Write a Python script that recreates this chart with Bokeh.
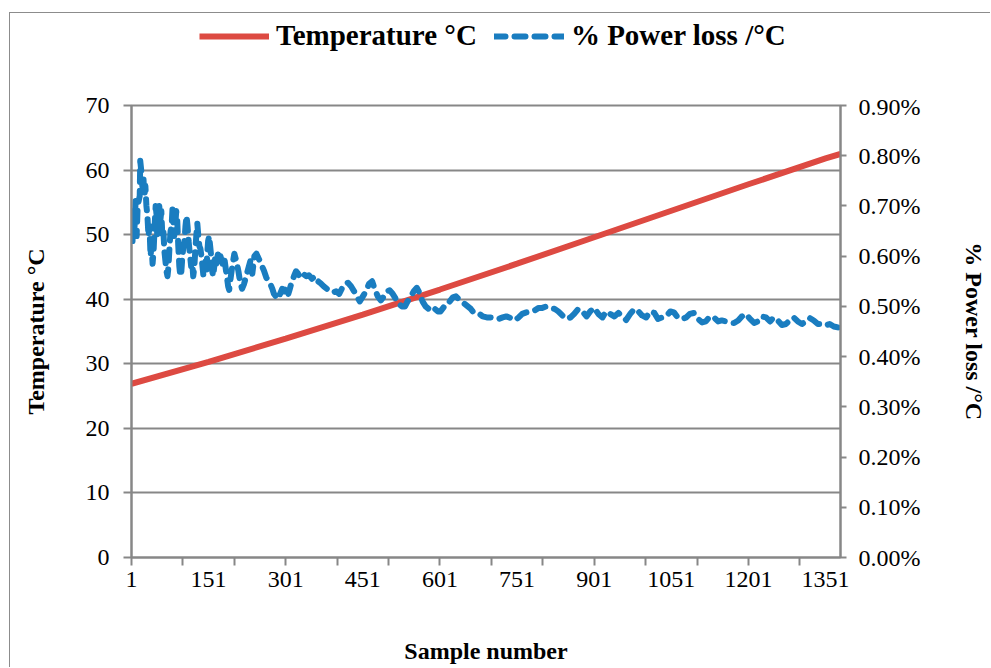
from bokeh.plotting import figure
from bokeh.layouts import column
from bokeh.models import (Range1d, LinearAxis, FixedTicker, PrintfTickFormatter,
                          Legend, LegendItem)
from bokeh.embed import file_html
from bokeh.resources import INLINE

# ---------------- data ----------------
temp_samples = [1, 151, 301, 451, 601, 751, 901, 1051, 1201, 1351, 1380]
temperature = [26.9, 30.3, 33.9, 37.6, 41.5, 45.5, 49.6, 53.7, 57.8, 61.8, 62.5]

loss_samples = [
    3, 5, 7, 9, 11, 13,
    17, 18, 20, 22, 24, 26, 28, 30, 32, 34,
    36, 38, 40, 42, 44, 46, 48, 50, 51, 53,
    55, 57, 59, 61, 63, 65, 67, 69, 71, 73,
    75, 77, 79, 81, 82, 84, 86, 88, 90, 92,
    94, 96, 98, 100, 102, 104, 106, 108, 110, 112,
    114, 115, 117, 119, 121, 123, 125, 127, 129, 131,
    133, 135, 137, 139, 141, 143, 145, 147, 148, 150,
    152, 154, 156, 158, 160, 162, 164, 166,
    170, 174, 178, 181, 185, 189, 191, 193, 197, 201,
    205, 209, 212, 216, 220, 224, 228, 232, 236, 240,
    244, 247, 251, 255, 259, 263, 267, 271, 275, 278,
    282, 286, 290, 294, 298, 302, 306, 309, 313, 317,
    321, 325, 329,
    335, 341, 346, 352, 358, 364, 370, 375, 381, 387,
    393, 399, 405, 410, 416, 422, 428, 434, 439, 445,
    451, 457, 463, 469, 474, 480, 486, 492, 498, 503,
    509, 515, 521, 527, 533, 538, 544, 550, 556, 562,
    567, 573, 579, 585, 591, 597, 602, 608, 614, 620,
    626, 632, 637, 643, 649, 655, 661, 666, 672, 678,
    684,
    692, 699, 707, 715, 723, 730, 738, 746, 754, 761,
    769, 777, 785, 793, 800, 808, 816, 824, 831, 839,
    847, 855, 862, 870, 878, 886, 893, 901, 909, 917,
    924, 932, 940, 948, 955, 963, 971, 979, 987, 994,
    1002, 1010, 1018, 1025, 1033, 1041, 1049, 1056, 1064, 1072,
    1080, 1087, 1095, 1103, 1111, 1118, 1126, 1134, 1142, 1149,
    1157, 1165, 1173, 1181, 1188, 1196, 1204, 1212, 1219, 1227,
    1235, 1243, 1250, 1258, 1266, 1274, 1281, 1289, 1297, 1305,
    1312, 1320, 1328, 1336, 1343, 1351, 1359, 1367, 1375,
]
# % power loss per degree C (in percent units)
power_loss = [
    0.63, 0.69, 0.66, 0.71, 0.64, 0.70,
    0.72, 0.79, 0.77, 0.74, 0.76, 0.72, 0.74, 0.70, 0.68, 0.64,
    0.66, 0.60, 0.62, 0.585, 0.61, 0.66, 0.70, 0.68, 0.64, 0.69,
    0.70, 0.67, 0.69, 0.64, 0.65, 0.61, 0.59, 0.57, 0.56, 0.58,
    0.62, 0.65, 0.66, 0.70, 0.68, 0.64, 0.66, 0.69, 0.67, 0.62,
    0.58, 0.56, 0.57, 0.60, 0.62, 0.63, 0.66, 0.68, 0.66, 0.63,
    0.61, 0.60, 0.58, 0.59, 0.56, 0.575, 0.61, 0.64, 0.665, 0.64,
    0.62, 0.615, 0.60, 0.58, 0.56, 0.575, 0.59, 0.57, 0.60, 0.63,
    0.64, 0.62, 0.60, 0.57, 0.56, 0.58, 0.60, 0.585,
    0.61, 0.60, 0.585, 0.60, 0.57, 0.54, 0.533, 0.55, 0.58, 0.605,
    0.59, 0.57, 0.55, 0.535, 0.545, 0.56, 0.575, 0.59, 0.565, 0.60,
    0.605, 0.598, 0.59, 0.58, 0.57, 0.558, 0.55, 0.545, 0.535, 0.525,
    0.52, 0.515, 0.525, 0.535, 0.53, 0.54, 0.525, 0.535, 0.55, 0.56,
    0.57, 0.565, 0.558,
    0.565, 0.56, 0.562, 0.555, 0.56, 0.55, 0.545, 0.54, 0.535, 0.53,
    0.528, 0.53, 0.525, 0.535, 0.545, 0.547, 0.54, 0.53, 0.52, 0.51,
    0.52, 0.53, 0.545, 0.55, 0.535, 0.52, 0.512, 0.52, 0.53, 0.532,
    0.525, 0.515, 0.505, 0.50, 0.50, 0.51, 0.52, 0.53, 0.537, 0.525,
    0.51, 0.50, 0.495, 0.49, 0.495, 0.49, 0.49, 0.498, 0.50, 0.51,
    0.518, 0.52, 0.515, 0.51, 0.505, 0.50, 0.495, 0.488, 0.485, 0.485,
    0.48,
    0.478, 0.478, 0.477, 0.475, 0.478, 0.48, 0.477, 0.472, 0.478, 0.485,
    0.488, 0.49, 0.492, 0.497, 0.497, 0.50, 0.497, 0.495, 0.49, 0.482,
    0.475, 0.478, 0.485, 0.495, 0.49, 0.48, 0.49, 0.497, 0.485, 0.478,
    0.49, 0.485, 0.48, 0.487, 0.48, 0.473, 0.485, 0.495, 0.49, 0.482,
    0.478, 0.49, 0.487, 0.475, 0.478, 0.48, 0.49, 0.488, 0.477, 0.475,
    0.478, 0.485, 0.487, 0.475, 0.468, 0.47, 0.48, 0.478, 0.47, 0.472,
    0.47, 0.468, 0.467, 0.472, 0.48, 0.485, 0.475, 0.467, 0.47, 0.48,
    0.478, 0.47, 0.478, 0.472, 0.463, 0.465, 0.472, 0.478, 0.47, 0.465,
    0.47, 0.477, 0.472, 0.465, 0.465, 0.462, 0.465, 0.46, 0.458,
]

x_label_ticks = [1, 151, 301, 451, 601, 751, 901, 1051, 1201, 1351]
x_mark_ticks = [1, 101, 201, 301, 401, 501, 601, 701, 801, 901, 1001, 1101, 1201, 1301]
temp_ticks = [0, 10, 20, 30, 40, 50, 60, 70]
pct_ticks = [0.0, 0.1, 0.2, 0.3, 0.4, 0.5, 0.6, 0.7, 0.8, 0.9]

# ---------------- layout / styling ----------------
FONT = "Liberation Serif"
GRAY = "#878787"
RED = "#DD4A42"
BLUE = "#1A7DC0"
TICK_SIZE = "24px"
TITLE_SIZE = "24px"

W = 980
LEG_H = 80
H = 574

# ---- main chart ----
p = figure(width=W, height=H, output_backend="svg", toolbar_location=None,
           title=None,
           x_range=Range1d(1, 1380), y_range=Range1d(0, 70),
           min_border_left=121, min_border_right=148,
           min_border_top=12, min_border_bottom=110)
p.outline_line_color = GRAY
p.outline_line_width = 2
p.background_fill_color = "white"
p.border_fill_color = "white"
p.xgrid.visible = False
p.ygrid.grid_line_color = GRAY
p.ygrid.grid_line_width = 2

p.extra_y_ranges = {"pct": Range1d(0, 0.9)}

line_temp = dict(line_color=RED, line_width=6)
line_loss = dict(line_color=BLUE, line_width=6, line_dash="11 9",
                 line_cap="round", line_join="round")

p.line(temp_samples, temperature, **line_temp)
p.line(loss_samples, power_loss, y_range_name="pct", **line_loss)

# left axis
ya = p.yaxis[0]
ya.ticker = FixedTicker(ticks=temp_ticks)
ya.axis_label = "Temperature °C"
p.ygrid.ticker = ya.ticker

# right axis
ra = LinearAxis(y_range_name="pct", ticker=FixedTicker(ticks=pct_ticks),
                formatter=PrintfTickFormatter(format="%.2f%%"),
                axis_label="% Power loss /°C")
p.add_layout(ra, "right")

# bottom axis
xa = p.xaxis[0]
xa.ticker = FixedTicker(ticks=x_label_ticks, minor_ticks=x_mark_ticks)
xa.axis_label = "Sample number"

for ax in (ya, ra, xa):
    ax.axis_line_color = GRAY
    ax.axis_line_width = 2
    ax.major_tick_line_color = GRAY
    ax.major_tick_line_width = 2
    ax.major_tick_in = 0
    ax.major_tick_out = 8
    ax.minor_tick_line_color = None
    ax.major_label_text_font = FONT
    ax.major_label_text_font_size = TICK_SIZE
    ax.major_label_text_color = "black"
    ax.axis_label_text_font = FONT
    ax.axis_label_text_font_size = TITLE_SIZE
    ax.axis_label_text_font_style = "bold"
    ax.axis_label_text_color = "black"

ya.major_label_standoff = 14
ya.axis_label_standoff = 34
ra.major_tick_out = 6
ra.major_label_standoff = 12
ra.axis_label_standoff = 38
xa.major_tick_out = 0
xa.minor_tick_line_color = GRAY
xa.minor_tick_line_width = 2
xa.minor_tick_in = 0
xa.minor_tick_out = 8
xa.major_label_standoff = 6
xa.axis_label_standoff = 48

# ---- legend strip above the chart (its view window shows none of the data) ----
lg = figure(width=W, height=LEG_H, output_backend="svg", toolbar_location=None,
            title=None, x_range=Range1d(-3, -2), y_range=Range1d(-3, -2),
            min_border_left=0, min_border_right=0,
            min_border_top=0, min_border_bottom=0)
lg.axis.visible = False
lg.grid.visible = False
lg.outline_line_color = None
lg.background_fill_color = "white"
lg.border_fill_color = "white"
k_temp = lg.line(temp_samples, temperature, **line_temp)
k_loss = lg.line(loss_samples, power_loss, **line_loss)
legend = Legend(items=[LegendItem(label="Temperature °C", renderers=[k_temp]),
                       LegendItem(label="% Power loss /°C", renderers=[k_loss])],
                orientation="horizontal", location=(68, 41),
                glyph_width=70, glyph_height=20, label_standoff=7, spacing=17,
                padding=4, margin=0, border_line_color=None,
                background_fill_alpha=0,
                label_text_font=FONT, label_text_font_size="29px",
                label_text_font_style="bold", label_text_color="black")
lg.add_layout(legend, "center")

page = column(lg, p, spacing=0)
page.styles = {"margin-left": "9px", "margin-top": "12px",
               "border-left": "1px solid #8c8c8c", "border-top": "1px solid #8c8c8c"}

open("out.html", "w").write(file_html(page, INLINE))
